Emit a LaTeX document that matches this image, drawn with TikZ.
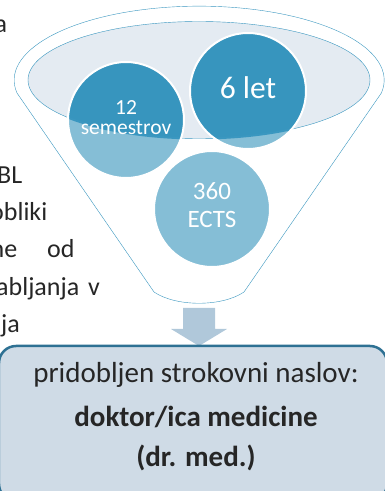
\documentclass[tikz,border=0pt]{standalone}
\usepackage{fontspec}
\setmainfont{Carlito}
\definecolor{funnelblue}{HTML}{3A97C0}
\definecolor{darkball}{HTML}{3795BE}
\definecolor{lightball}{HTML}{85BED6}
\definecolor{rimfill}{HTML}{E4EBF2}
\definecolor{arrowfill}{HTML}{B0C8DA}
\definecolor{boxfill}{HTML}{CFDBE6}
\definecolor{boxline}{HTML}{2E7193}
\definecolor{ink}{HTML}{262626}
\tikzset{
  ball/.style={circle,minimum size=116pt,inner sep=0pt,draw=white,line width=2pt,fill=lightball,
    path picture={\fill[darkball] (rim) ellipse[x radius=171pt,y radius=58.5pt];
                  \draw[funnelblue] (rim) ellipse[x radius=171pt,y radius=58.5pt];}},
  balltext/.style={anchor=base,inner sep=0pt,text=white},
  sidetext/.style={anchor=base west,inner sep=0pt,text=ink,font=\fontsize{26}{26}\selectfont},
  boxtext/.style={anchor=base,inner sep=0pt,text=ink,font=\fontsize{29}{29}\selectfont},
}
\begin{document}
\begin{tikzpicture}[x=1pt,y=1pt]
    \useasboundingbox (0,0) rectangle (385,491);
    \clip (0,0) rectangle (385,491);
    % cut off paragraph on the left
    \node[sidetext] (l1) at (-5.5,458) {a};
    \node[sidetext] (l2) at (-3,307) {BL};
    \node[sidetext] (l3) at (-10,270) {obliki};
    \node[sidetext] (l4) at (-9.5,233) {ne};
    \node[sidetext] (l5) at (47,233) {od};
    \node[sidetext] (l6) at (-4,195) {abljanja};
    \node[sidetext] (l7) at (88,195) {v};
    \node[sidetext] (l8) at (1,158) {ja};
    % funnel
    \coordinate (rim) at (199,411);
    \draw[funnelblue,fill=white] (17,398) arc[start angle=190,end angle=-10,x radius=185,y radius=74]
        -- (244,199) .. controls (222,184) and (176,184) .. (154,199) -- cycle;
    \draw[funnelblue,fill=rimfill] (rim) ellipse[x radius=171,y radius=58.5];
    \node[ball] (sem) at (126,371) {};
    \node[ball] (let) at (248,400) {};
    \node[ball] (ects) at (212,282) {};
    \node[balltext,font=\fontsize{21.5}{21.5}\selectfont] (sem1) at (126,376) {12};
    \node[balltext,font=\fontsize{21.5}{21.5}\selectfont] (sem2) at (126,356) {semestrov};
    \node[balltext,font=\fontsize{31.5}{31.5}\selectfont] (let1) at (248,392) {6 let};
    \node[balltext,font=\fontsize{25}{25}\selectfont] (ects1) at (212,291) {360};
    \node[balltext,font=\fontsize{25}{25}\selectfont] (ects2) at (212,263) {ECTS};
    % arrow and result box
    \fill[arrowfill] (183,183) -- (215,183) -- (215,162) -- (227,162) -- (199,145) -- (171,162) -- (183,162) -- cycle;
    \draw[boxline,line width=2.5pt,fill=boxfill,rounded corners=17pt] (-1,-10) rectangle (387,145);
    \node[boxtext] (t1) at (196,108) {pridobljen strokovni naslov:};
    \node[boxtext,font=\fontsize{29}{29}\selectfont\bfseries] (t2) at (196,64) {doktor/ica medicine};
    \node[boxtext,font=\fontsize{29}{29}\selectfont\bfseries] (t3) at (196,24) {(dr. med.)};
\end{tikzpicture}
\end{document}
